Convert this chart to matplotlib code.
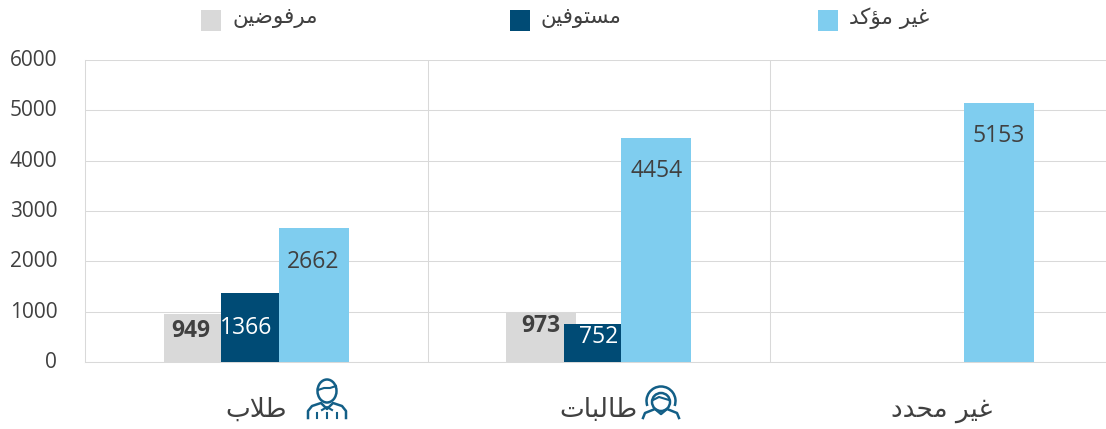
import numpy as np
import matplotlib
matplotlib.use('Agg')
import matplotlib.pyplot as plt
from matplotlib.patches import Rectangle, Ellipse, Arc
from matplotlib.transforms import ScaledTranslation

# Chart data
categories = ['طلاب', 'طالبات', 'غير محدد']
legend_names = ['مرفوضين', 'مستوفين', 'غير مؤكد']
rejected = [949, 973, 0]
accepted = [1366, 752, 0]
unconfirmed = [2662, 4454, 5153]
y_ticks = [0, 1000, 2000, 3000, 4000, 5000, 6000]

GREY = '#D9D9D9'
DARK = '#004B75'
LIGHT = '#7FCDEF'
TEXT = '#404040'
ICON = '#135F87'

# (isolated, final, initial, medial) presentation forms; matplotlib does no Arabic shaping
FORMS = {
    'ا': (0xFE8D, 0xFE8E), 'ؤ': (0xFE85, 0xFE86), 'د': (0xFEA9, 0xFEAA),
    'ر': (0xFEAD, 0xFEAE), 'و': (0xFEED, 0xFEEE),
    'ب': (0xFE8F, 0xFE90, 0xFE91, 0xFE92), 'ت': (0xFE95, 0xFE96, 0xFE97, 0xFE98),
    'ح': (0xFEA1, 0xFEA2, 0xFEA3, 0xFEA4), 'س': (0xFEB1, 0xFEB2, 0xFEB3, 0xFEB4),
    'ض': (0xFEBD, 0xFEBE, 0xFEBF, 0xFEC0), 'ط': (0xFEC1, 0xFEC2, 0xFEC3, 0xFEC4),
    'غ': (0xFECD, 0xFECE, 0xFECF, 0xFED0), 'ف': (0xFED1, 0xFED2, 0xFED3, 0xFED4),
    'ك': (0xFED9, 0xFEDA, 0xFEDB, 0xFEDC), 'ل': (0xFEDD, 0xFEDE, 0xFEDF, 0xFEE0),
    'م': (0xFEE1, 0xFEE2, 0xFEE3, 0xFEE4), 'ن': (0xFEE5, 0xFEE6, 0xFEE7, 0xFEE8),
    'ي': (0xFEF1, 0xFEF2, 0xFEF3, 0xFEF4),
}


# Function to shape an Arabic string and put it in visual (left to right) order
def shape(text):
    out = []
    prev_joins = False
    i = 0
    while i < len(text):
        c = text[i]
        if c not in FORMS:
            out.append(c)
            prev_joins = False
            i += 1
            continue
        # lam-alef ligature
        if c == 'ل' and i + 1 < len(text) and text[i + 1] == 'ا':
            out.append(chr(0xFEFC if prev_joins else 0xFEFB))
            prev_joins = False
            i += 2
            continue
        forms = FORMS[c]
        next_ok = i + 1 < len(text) and text[i + 1] in FORMS and len(forms) == 4
        if prev_joins and next_ok:
            code = forms[3]
        elif prev_joins:
            code = forms[1]
        elif next_ok:
            code = forms[2]
        else:
            code = forms[0]
        out.append(chr(code))
        prev_joins = len(forms) == 4
        i += 1
    return ''.join(reversed(out))


W, H = 1106, 429
fig = plt.figure(figsize=(W / 100, H / 100), dpi=100)
plt.rcParams['font.family'] = ['Open Sans', 'DejaVu Sans']

# the plot area runs past the right edge of the picture, like the original
ax = fig.add_axes([85 / W, (H - 362) / H, 1027.5 / W, 302 / H])

x = np.arange(len(categories))
offset = 0.168
width = 0.204
ax.bar(x[:2] - offset, rejected[:2], width, color=GREY, zorder=2)
ax.bar(x[:2], accepted[:2], width, color=DARK, zorder=3)
ax.bar(x + offset, unconfirmed, width, color=LIGHT, zorder=4)

ax.set_xlim(-0.5, 2.5)
ax.set_ylim(0, 6000)
ax.set_yticks(y_ticks)
ax.set_xticks(x)
ax.set_xticklabels([shape(c) for c in categories], family='DejaVu Sans', fontsize=19, color=TEXT)
ax.tick_params(axis='x', length=0, pad=25)
ax.tick_params(axis='y', length=0, pad=20, labelsize=15, labelcolor=TEXT)
up = ScaledTranslation(0, 1.5 / 72, fig.dpi_scale_trans)
for lab in ax.get_yticklabels():
    lab.set_family('Open Sans')
    lab.set_transform(lab.get_transform() + up)

ax.grid(axis='y', color=GREY, linewidth=0.75, zorder=0)
ax.set_xticks([0.5, 1.5], minor=True)
ax.grid(axis='x', which='minor', color=GREY, linewidth=0.75, zorder=0)
ax.tick_params(axis='x', which='minor', length=0)
ax.grid(axis='x', which='major', visible=False)
for side in ['top', 'right']:
    ax.spines[side].set_visible(False)
for side in ['left', 'bottom']:
    ax.spines[side].set_color(GREY)
    ax.spines[side].set_linewidth(0.75)

# Data labels, nudged by hand as in the original (pixels from the bar top / bar centre)
lab_kw = dict(ha='center', va='center', fontsize=16.5, zorder=6, family='Open Sans')


def bar_label(xpos, value, dx, dy, **kw):
    ax.annotate(str(value), (xpos, value), xytext=(dx * 0.72, -dy * 0.72),
                textcoords='offset points', **lab_kw, **kw)


bar_label(0 - offset, rejected[0], -8, 17, color=TEXT, fontweight='bold')
bar_label(1 - offset, rejected[1], 0, 13, color=TEXT, fontweight='bold')
bar_label(0, accepted[0], -10, 35, color='white')
bar_label(1, accepted[1], 0, 13, color='white')
bar_label(0 + offset, unconfirmed[0], -1, 34, color=TEXT)
bar_label(1 + offset, unconfirmed[1], 0, 33, color=TEXT)
bar_label(2 + offset, unconfirmed[2], 0, 33, color=TEXT)

# Overlay in picture pixels for the legend and the two icons
over = fig.add_axes([0, 0, 1, 1], facecolor='none')
over.set_xlim(0, W)
over.set_ylim(H, 0)
over.axis('off')

legend_x = [201, 510, 818]
for left, name, col in zip(legend_x, legend_names, [GREY, DARK, LIGHT]):
    over.add_patch(Rectangle((left, 10), 20, 21, color=col, lw=0))
    over.text(left + 31, 18, shape(name), family='DejaVu Sans', fontsize=15.5,
              color=TEXT, ha='left', va='center')


# Function to draw the male student icon
def man_icon(cx):
    kw = dict(fill=False, edgecolor=ICON, linewidth=1.8)
    over.add_patch(Ellipse((cx, 391), 19, 23, **kw))
    over.plot([cx - 9, cx - 3, cx + 3, cx + 9], [390, 388, 388, 386], color=ICON, lw=1.5)
    over.plot([cx - 19, cx - 19, cx - 15, cx - 6, cx, cx + 6, cx + 15, cx + 19, cx + 19],
              [418, 411, 406, 403, 409, 403, 406, 411, 418], color=ICON, lw=1.8)
    over.plot([cx - 5, cx, cx + 5], [410, 407, 410], color=ICON, lw=1.5)
    for dx in [-10, 0, 10]:
        over.plot([cx + dx, cx + dx], [413, 418], color=ICON, lw=1.5)


# Function to draw the female student icon
def woman_icon(cx):
    kw = dict(fill=False, edgecolor=ICON, linewidth=1.8)
    over.add_patch(Arc((cx, 401), 29, 29, theta1=160, theta2=20, **kw))
    over.add_patch(Ellipse((cx, 402), 18, 18, **kw))
    over.plot([cx - 8, cx - 2, cx + 8], [400, 397, 400], color=ICON, lw=1.5)
    over.plot([cx - 18, cx - 16, cx - 6, cx, cx + 6, cx + 16, cx + 18],
              [418, 413, 409, 414, 409, 413, 418], color=ICON, lw=1.8)


man_icon(327)
woman_icon(661)

fig.savefig('out.png', dpi=100)
